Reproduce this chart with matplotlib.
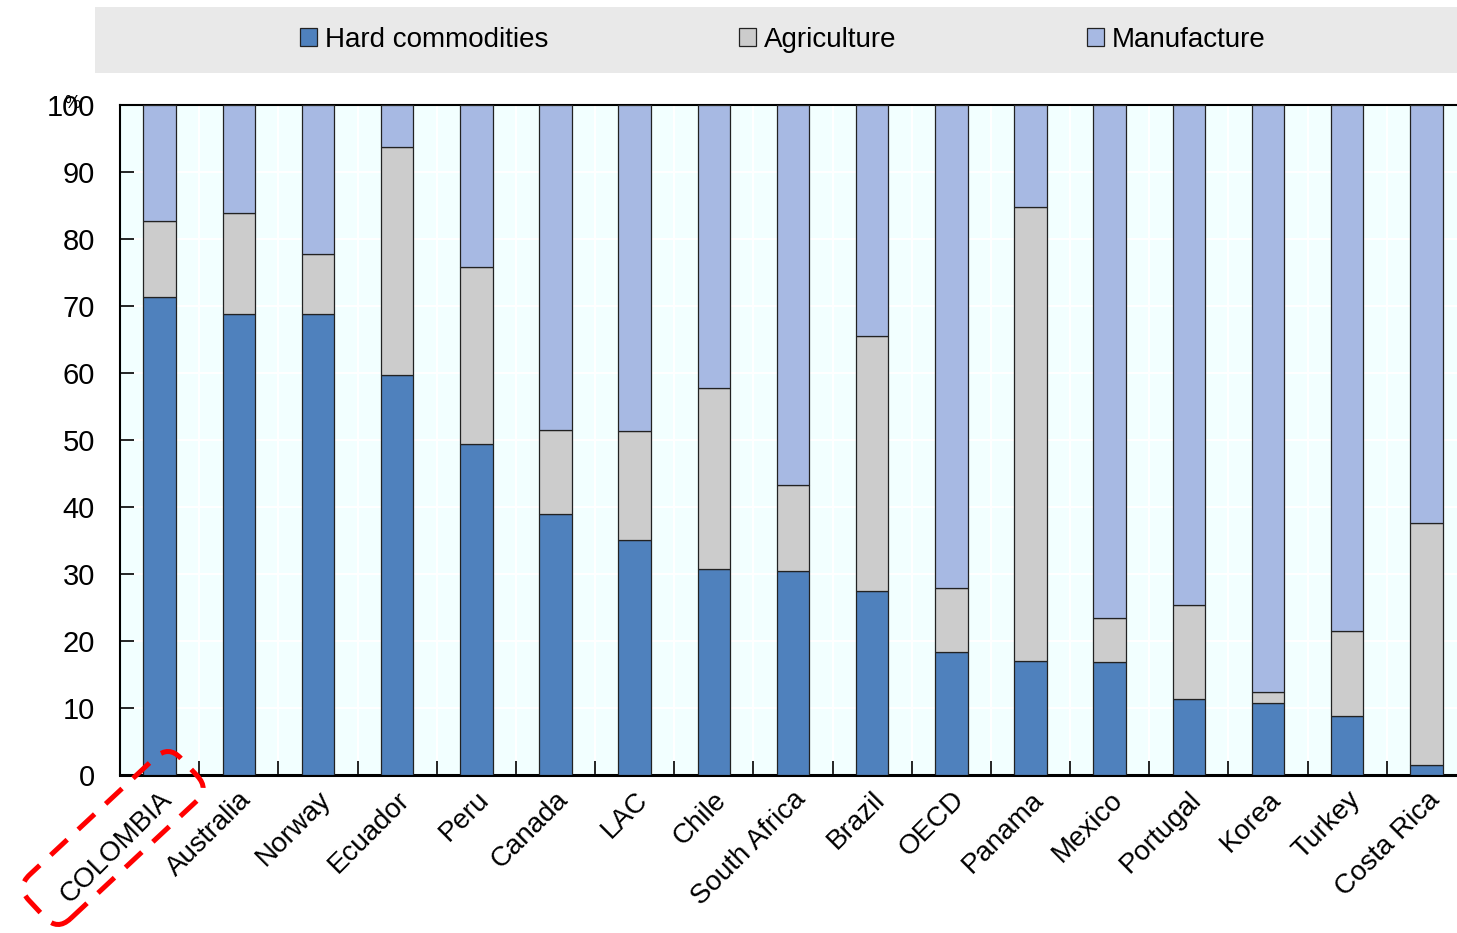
import matplotlib
matplotlib.use("Agg")
import matplotlib.pyplot as plt
import numpy as np
from matplotlib.patches import FancyBboxPatch, Rectangle
from matplotlib.transforms import Affine2D, ScaledTranslation
from matplotlib import font_manager

# Data (% of exports)
countries = ["COLOMBIA", "Australia", "Norway", "Ecuador", "Peru", "Canada", "LAC",
             "Chile", "South Africa", "Brazil", "OECD", "Panama", "Mexico",
             "Portugal", "Korea", "Turkey", "Costa Rica"]
hard = [71.3, 68.8, 68.8, 59.7, 49.4, 39.0, 35.1, 30.7, 30.4, 27.5, 18.4, 17.0, 16.9,
        11.3, 10.7, 8.8, 1.5]
hard_plus_agri = [82.7, 83.9, 77.8, 93.7, 75.8, 51.5, 51.3, 57.8, 43.3, 65.5, 27.9, 84.8,
                  23.4, 25.4, 12.4, 21.5, 37.6]
agri = [t - h for t, h in zip(hard_plus_agri, hard)]
manuf = [100 - t for t in hard_plus_agri]

names = {f.name for f in font_manager.fontManager.ttflist}
fam = "Liberation Sans Narrow" if "Liberation Sans Narrow" in names else "Liberation Sans"
plt.rcParams["font.family"] = [fam, "DejaVu Sans"]
fs = 22 if fam.endswith("Narrow") else 20

W, H = 1457, 933
fig = plt.figure(figsize=(W / 100, H / 100), dpi=100)
# plot area runs slightly past the right edge of the image, as in the original
ax = fig.add_axes([120 / W, 1 - 775 / H, (1466 - 120) / W, (775 - 105) / H])
ax.set_facecolor("#F2FFFF")

x = np.arange(len(countries))
bw = 0.41
ax.bar(x, hard, bw, color="#4F81BD", edgecolor="#222222", linewidth=0.9,
       label="Hard commodities", zorder=3)
ax.bar(x, agri, bw, bottom=hard, color="#CCCCCC", edgecolor="#222222", linewidth=0.9,
       label="Agriculture", zorder=3)
ax.bar(x, manuf, bw, bottom=hard_plus_agri, color="#A7B9E3", edgecolor="#222222",
       linewidth=0.9, label="Manufacture", zorder=3)

ax.set_xlim(-0.5, len(countries) - 0.5)
ax.set_ylim(0, 100)
ax.set_yticks(range(0, 101, 10))
ax.tick_params(axis="y", direction="in", length=10, width=1.2, labelsize=fs + 1, pad=18)
ax.set_xticks(x)
ax.set_xticklabels(countries, rotation=45, ha="right", va="center",
                   rotation_mode="anchor", fontsize=fs)
ax.tick_params(axis="x", length=0, pad=15)
shift = ScaledTranslation(9 / 100, 0, fig.dpi_scale_trans)
for lab in ax.get_xticklabels():
    lab.set_transform(lab.get_transform() + shift)
ax.set_xticks(np.arange(-0.5, len(countries), 1), minor=True)
ax.tick_params(axis="x", which="minor", direction="in", length=10, width=1.2)
ax.grid(True, which="minor", axis="x", color="white", linewidth=1.5, zorder=0)
ax.grid(True, which="major", axis="y", color="white", linewidth=1.5, zorder=0)
ax.set_axisbelow(True)

for s in ["left", "bottom", "top"]:
    ax.spines[s].set_linewidth(1.5)
    ax.spines[s].set_color("black")
ax.spines["right"].set_visible(False)
ax.spines["bottom"].set_linewidth(2.2)

fig.text(72 / W, 1 - 103 / H, "%", fontsize=13, ha="center", va="center")

# legend band
fig.add_artist(Rectangle((95 / W, 1 - 73 / H), (W - 95) / W, 66 / H,
                         transform=fig.transFigure, facecolor="#E9E9E9",
                         edgecolor="none", zorder=0))
fig.legend(loc="center", bbox_to_anchor=(783 / W, 1 - 40 / H), ncol=3, frameon=False,
           fontsize=fs, handlelength=0.6, handleheight=0.6, handletextpad=0.3,
           columnspacing=6.85)

# dashed highlight around COLOMBIA
box = FancyBboxPatch((-104, -30), 208, 60, boxstyle="round,pad=0,rounding_size=18",
                     fill=False, edgecolor="red", linewidth=3.6,
                     linestyle=(0, (4.5, 3)),
                     transform=Affine2D().rotate_deg(43).translate(113, H - 838))
fig.add_artist(box)

fig.savefig("out.png", dpi=100)
